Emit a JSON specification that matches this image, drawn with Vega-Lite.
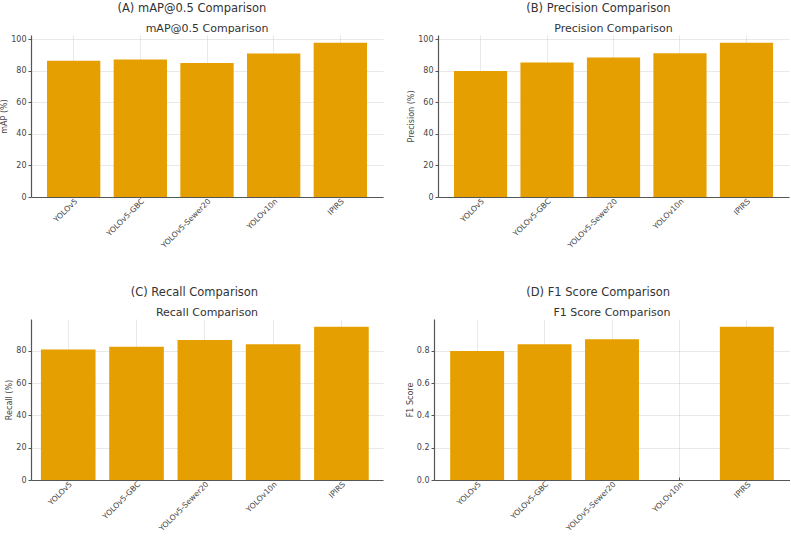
{
  "$schema": "https://vega.github.io/schema/vega-lite/v6.json",
  "padding": {"left": 0, "top": 2, "right": 0, "bottom": 0},
  "background": "white",
  "datasets": {
    "models": [
      {"model": "YOLOv5", "mAP": 86.4, "precision": 79.9, "recall": 80.8, "f1": 0.80},
      {"model": "YOLOv5-GBC", "mAP": 87.1, "precision": 85.2, "recall": 82.5, "f1": 0.841},
      {"model": "YOLOv5-Sewer20", "mAP": 84.9, "precision": 88.4, "recall": 86.8, "f1": 0.872},
      {"model": "YOLOv10n", "mAP": 90.9, "precision": 91.1, "recall": 84.1, "f1": null},
      {"model": "IPIRS", "mAP": 97.8, "precision": 97.8, "recall": 95.0, "f1": 0.95}
    ]
  },
  "config": {
    "font": "DejaVu Sans",
    "view": {"stroke": null},
    "bar": {"color": "#E69F00"},
    "axis": {
      "labelFont": "DejaVu Sans",
      "labelFontSize": 8,
      "labelColor": "#444444",
      "titleFont": "DejaVu Sans",
      "titleFontSize": 8,
      "titleFontWeight": "normal",
      "titleColor": "#444444",
      "titlePadding": 2,
      "labelPadding": 2,
      "domainColor": "#555555",
      "domainWidth": 1.2,
      "tickColor": "#555555",
      "tickSize": 3,
      "gridColor": "#b0b0b0",
      "gridOpacity": 0.35,
      "gridWidth": 0.8,
      "zindex": 1
    },
    "axisX": {"labelFontSize": 7.7, "tickSize": -3, "labelPadding": 3},
    "title": {"font": "DejaVu Sans", "fontWeight": "normal", "color": "#333333"}
  },
  "concat": [
    {
      "spacing": 24,
      "hconcat": [
        {
          "title": {"text": "(A) mAP@0.5 Comparison", "fontSize": 11.5, "anchor": "middle", "offset": 9},
          "vconcat": [
            {
              "data": {"name": "models"},
              "title": {"text": "mAP@0.5 Comparison", "fontSize": 11, "anchor": "middle", "frame": "group", "offset": 1},
              "width": 352,
              "height": 162,
              "mark": {"type": "bar"},
              "encoding": {
                "x": {"field": "model", "type": "nominal", "title": null,
                  "scale": {"domain": ["YOLOv5", "YOLOv5-GBC", "YOLOv5-Sewer20", "YOLOv10n", "IPIRS"], "paddingInner": 0.2, "paddingOuter": 0.24},
                  "axis": {"labelAngle": -45, "labelAlign": "right", "labelBaseline": "top", "grid": true, "bandPosition": 0.5}},
                "y": {"field": "mAP", "type": "quantitative", "title": "mAP (%)",
                  "scale": {"domain": [0, 102.69], "nice": false},
                  "axis": {"values": [0, 20, 40, 60, 80, 100], "grid": true}}
              }
            }
          ]
        },
        {
          "title": {"text": "(B) Precision Comparison", "fontSize": 11.5, "anchor": "middle", "offset": 9},
          "vconcat": [
            {
              "data": {"name": "models"},
              "title": {"text": "Precision Comparison", "fontSize": 11, "anchor": "middle", "frame": "group", "offset": 1},
              "width": 351,
              "height": 162,
              "mark": {"type": "bar"},
              "encoding": {
                "x": {"field": "model", "type": "nominal", "title": null,
                  "scale": {"domain": ["YOLOv5", "YOLOv5-GBC", "YOLOv5-Sewer20", "YOLOv10n", "IPIRS"], "paddingInner": 0.2, "paddingOuter": 0.24},
                  "axis": {"labelAngle": -45, "labelAlign": "right", "labelBaseline": "top", "grid": true, "bandPosition": 0.5}},
                "y": {"field": "precision", "type": "quantitative", "title": "Precision (%)",
                  "scale": {"domain": [0, 102.69], "nice": false},
                  "axis": {"values": [0, 20, 40, 60, 80, 100], "grid": true}}
              }
            }
          ]
        }
      ]
    },
    {
      "spacing": 23,
      "hconcat": [
        {
          "title": {"text": "(C) Recall Comparison", "fontSize": 11.5, "anchor": "middle", "offset": 9},
          "vconcat": [
            {
              "data": {"name": "models"},
              "title": {"text": "Recall Comparison", "fontSize": 11, "anchor": "middle", "frame": "group", "offset": 1},
              "width": 352,
              "height": 161,
              "mark": {"type": "bar"},
              "encoding": {
                "x": {"field": "model", "type": "nominal", "title": null,
                  "scale": {"domain": ["YOLOv5", "YOLOv5-GBC", "YOLOv5-Sewer20", "YOLOv10n", "IPIRS"], "paddingInner": 0.2, "paddingOuter": 0.177, "align": 0.41},
                  "axis": {"labelAngle": -45, "labelAlign": "right", "labelBaseline": "top", "grid": true, "bandPosition": 0.5}},
                "y": {"field": "recall", "type": "quantitative", "title": "Recall (%)",
                  "scale": {"domain": [0, 99.75], "nice": false},
                  "axis": {"values": [0, 20, 40, 60, 80], "grid": true}}
              }
            }
          ]
        },
        {
          "title": {"text": "(D) F1 Score Comparison", "fontSize": 11.5, "anchor": "middle", "offset": 9},
          "vconcat": [
            {
              "data": {"name": "models"},
              "title": {"text": "F1 Score Comparison", "fontSize": 11, "anchor": "middle", "frame": "group", "offset": 1},
              "width": 356,
              "height": 161,
              "mark": {"type": "bar"},
              "encoding": {
                "x": {"field": "model", "type": "nominal", "title": null,
                  "scale": {"domain": ["YOLOv5", "YOLOv5-GBC", "YOLOv5-Sewer20", "YOLOv10n", "IPIRS"], "paddingInner": 0.2, "paddingOuter": 0.24},
                  "axis": {"labelAngle": -45, "labelAlign": "right", "labelBaseline": "top", "grid": true, "bandPosition": 0.5}},
                "y": {"field": "f1", "type": "quantitative", "title": "F1 Score",
                  "scale": {"domain": [0, 0.9975], "nice": false},
                  "axis": {"values": [0, 0.2, 0.4, 0.6, 0.8], "format": ".1f", "grid": true}}
              }
            }
          ]
        }
      ]
    }
  ],
  "columns": 1,
  "align": "none",
  "spacing": 36
}
